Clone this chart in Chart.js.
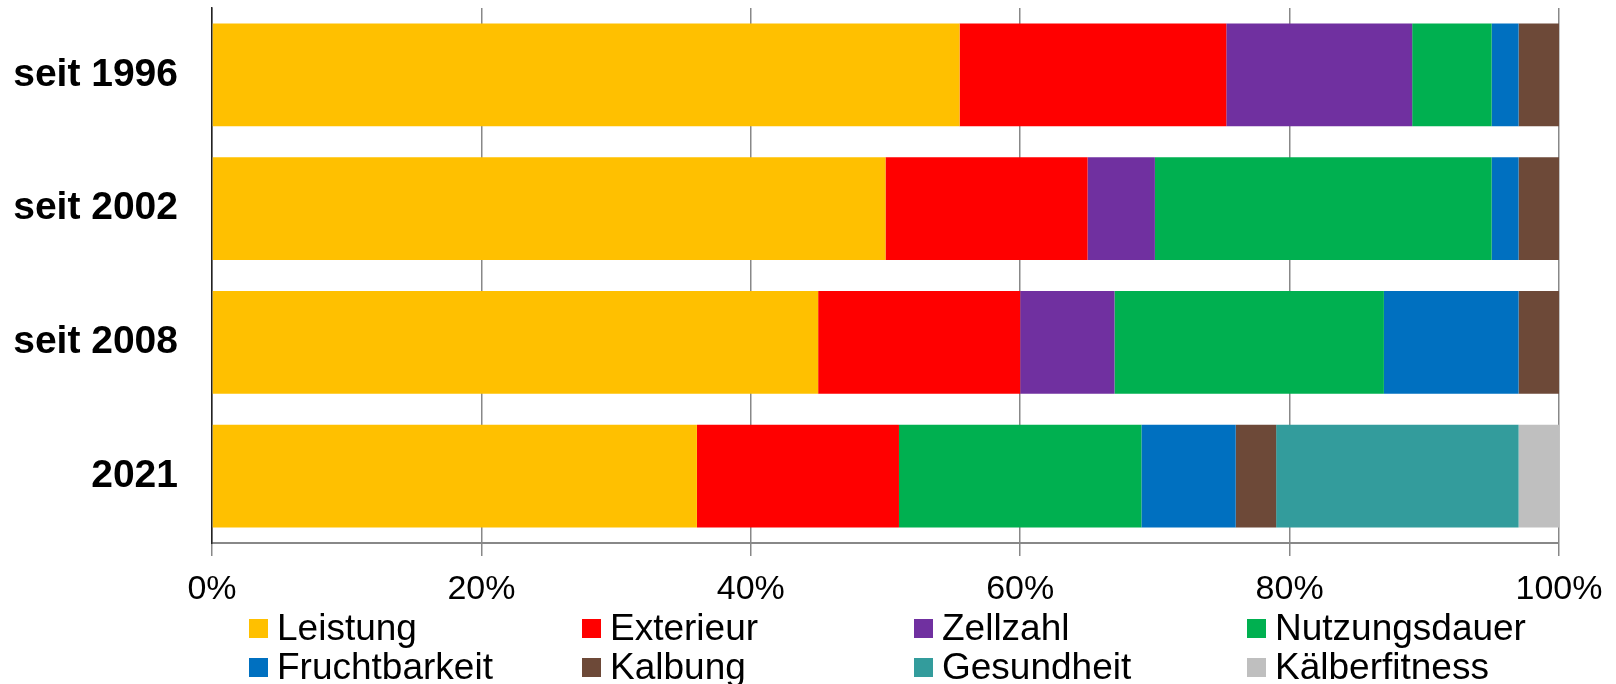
<!DOCTYPE html>
<html><head><meta charset="utf-8">
<script src="https://cdn.jsdelivr.net/npm/chart.js@4/dist/chart.umd.min.js"></script>
<style>
html,body{margin:0;padding:0;background:#fff;}
#wrap{position:relative;width:1616px;height:684px;overflow:hidden;}
canvas{position:absolute;left:0;top:0;}
.lg{position:absolute;display:flex;align-items:center;height:40px;font:37px 'Liberation Sans',Arial,sans-serif;color:#000;white-space:nowrap;}
.lg i{display:inline-block;width:19px;height:19px;margin-right:9px;}
</style></head>
<body>
<div id="wrap"><canvas id="c" width="1616" height="684"></canvas><div id="legend"></div></div>
<script>
const categories = ['seit 1996', 'seit 2002', 'seit 2008', '2021'];
const seriesNames = ['Leistung', 'Exterieur', 'Zellzahl', 'Nutzungsdauer', 'Fruchtbarkeit', 'Kalbung', 'Gesundheit', 'Kälberfitness'];
const leistung      = [55.5, 50, 45, 36];
const exterieur     = [19.8, 15, 15, 15];
const zellzahl      = [13.8, 5, 7, 0];
const nutzungsdauer = [5.9, 25, 20, 18];
const fruchtbarkeit = [2, 2, 10, 7];
const kalbung       = [3, 3, 3, 3];
const gesundheit    = [0, 0, 0, 18];
const kaelberfitness= [0, 0, 0, 3];
const xTicks = [0, 20, 40, 60, 80, 100];
const colors = ['#FFC000', '#FF0000', '#7030A0', '#00B050', '#0070C0', '#6D4938', '#339C9C', '#BFBFBF'];

const values = [leistung, exterieur, zellzahl, nutzungsdauer, fruchtbarkeit, kalbung, gesundheit, kaelberfitness];
const datasets = seriesNames.map((n, i) => ({
  label: n, data: values[i], backgroundColor: colors[i], borderWidth: 0,
  categoryPercentage: 1, barPercentage: 0.77
}));

const FONT = "'Liberation Sans', Arial, sans-serif";
new Chart(document.getElementById('c'), {
  type: 'bar',
  data: { labels: categories, datasets },
  options: {
    indexAxis: 'y', responsive: false, animation: false,
    layout: { padding: { left: 0, top: 8, right: 57, bottom: 81 } },
    plugins: { legend: { display: false }, tooltip: { enabled: false } },
    scales: {
      x: {
        stacked: true, min: 0, max: 100,
        afterBuildTicks: s => { s.ticks = xTicks.map(v => ({ value: v })); },
        afterFit: s => { s.height = 60; s.paddingTop = 0; s.paddingBottom = 0; s.paddingLeft = 0; s.paddingRight = 0; },
        grid: { color: '#888', lineWidth: 1.5, tickLength: 13, tickColor: '#888' },
        border: { color: '#888', width: 2 },
        ticks: { color: '#000', padding: 13, font: { family: FONT, size: 34 },
                 callback: v => v + '%' }
      },
      y: {
        stacked: true,
        afterFit: s => { s.width = 212; s.paddingTop = 0; s.paddingBottom = 0; },
        grid: { display: false, drawTicks: false },
        border: { color: '#222', width: 1.5 },
        ticks: { color: '#000', padding: 34, font: { family: FONT, size: 39, weight: 'bold' } }
      }
    }
  }
});

const legendX = [249, 582, 914, 1247];
const legendY = [628, 667];
const lg = document.getElementById('legend');
seriesNames.forEach((n, i) => {
  const d = document.createElement('div');
  d.className = 'lg';
  d.style.left = legendX[i % 4] + 'px';
  d.style.top = (legendY[Math.floor(i / 4)] - 20) + 'px';
  const m = document.createElement('i');
  m.style.background = colors[i];
  d.appendChild(m);
  d.appendChild(document.createTextNode(n));
  lg.appendChild(d);
});
</script>
</body></html>
